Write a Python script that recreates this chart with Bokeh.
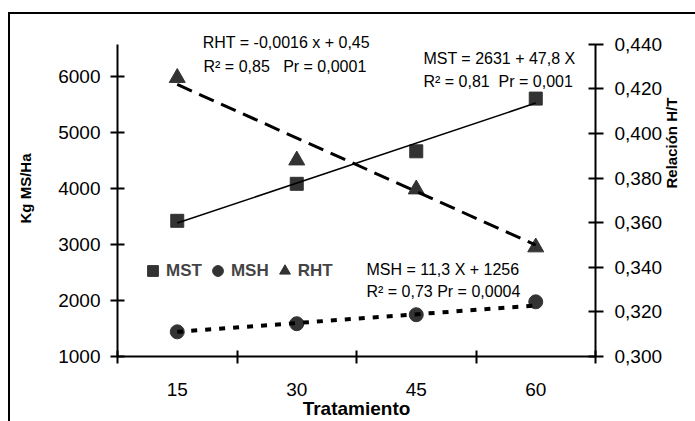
import math
from bokeh.plotting import figure
from bokeh.models import (LinearAxis, Range1d, FixedTicker, CustomJSTickFormatter,
                          Legend, LegendItem, Label)
from bokeh.embed import file_html
from bokeh.resources import INLINE

# ---- data ----
trat = [15, 30, 45, 60]
mst = [3420, 4080, 4660, 5600]
msh = [1440, 1585, 1745, 1975]
rht = [0.425, 0.388, 0.375, 0.349]

fit_x = [15, 60]
mst_fit = [3380, 5520]
msh_fit = [1440, 1910]
rht_fit = [0.422, 0.350]

cat_bounds = [7.5, 22.5, 37.5, 52.5, 67.5]
left_ticks = [1000, 2000, 3000, 4000, 5000, 6000]
right_ticks = [0.30, 0.32, 0.34, 0.36, 0.38, 0.40, 0.42, 0.44]

FONT = "Liberation Sans"
MARK = "#333333"

p = figure(width=695, height=421, title=None, output_backend="svg", toolbar_location=None,
           x_range=Range1d(7.5, 67.5), y_range=Range1d(1000, 6993),
           min_border_left=117, min_border_right=100, min_border_top=20, min_border_bottom=63)
p.xgrid.visible = False
p.ygrid.visible = False
p.outline_line_color = None
p.background_fill_color = "white"
p.border_fill_color = None
p.styles = {
    "background-color": "white",
    "background-image": "linear-gradient(#000, #000), linear-gradient(#000, #000)",
    "background-size": "2px 100%, 100% 2px",
    "background-position": "8px 12px, 8px 12px",
    "background-repeat": "no-repeat",
}

p.extra_y_ranges = {"rht": Range1d(0.30, 0.4507)}

# left axis
ya = p.yaxis[0]
ya.ticker = FixedTicker(ticks=left_ticks)
ya.bounds = (1000, 6567)
ya.major_tick_in = 7
ya.major_tick_out = 7
ya.major_label_standoff = 10
ya.axis_label = "Kg MS/Ha"
ya.axis_label_standoff = 21
ya.axis_label_text_font_size = "15px"

# right axis
ra = LinearAxis(y_range_name="rht", ticker=FixedTicker(ticks=right_ticks),
                formatter=CustomJSTickFormatter(code="return tick.toFixed(3).replace('.', ',')"))
ra.bounds = (0.30, 0.44)
ra.major_tick_in = 7
ra.major_tick_out = 8
ra.major_label_standoff = 11
ra.axis_label = "Relación H/T"
ra.axis_label_orientation = math.pi / 2
ra.axis_label_standoff = 6
ra.axis_label_text_font_size = "15px"
p.add_layout(ra, "right")

# x axis
xa = p.xaxis[0]
xa.ticker = FixedTicker(ticks=trat, minor_ticks=cat_bounds)
xa.major_tick_in = 0
xa.major_tick_out = 0
xa.minor_tick_in = 6
xa.minor_tick_out = 7
xa.minor_tick_line_color = "black"
xa.minor_tick_line_width = 2
xa.major_label_standoff = 19
xa.axis_label = "Tratamiento"
xa.axis_label_standoff = -1
xa.axis_label_text_font_size = "19px"

for ax in (ya, ra, xa):
    ax.axis_line_color = "black"
    ax.axis_line_width = 2
    ax.major_tick_line_color = "black"
    ax.major_tick_line_width = 2
    ax.major_label_text_font = FONT
    ax.major_label_text_font_size = "19px"
    ax.major_label_text_color = "black"
    ax.axis_label_text_font = FONT
    ax.axis_label_text_font_style = "bold"
    ax.axis_label_text_color = "black"
ya.minor_tick_line_color = None
ra.minor_tick_line_color = None

# markers
r_mst = p.scatter(trat, mst, marker="square", size=13, color=MARK)
r_msh = p.scatter(trat, msh, marker="circle", size=14, color=MARK)
r_rht = p.scatter(trat, rht, marker="triangle", size=16, color=MARK, y_range_name="rht")

# fitted lines
p.line(fit_x, mst_fit, line_color="black", line_width=1.5)
p.line(fit_x, rht_fit, line_color="black", line_width=3, line_dash="16 8", y_range_name="rht")
p.line(fit_x, msh_fit, line_color="black", line_width=4, line_dash="6 8")

# legend
legend = Legend(items=[LegendItem(label="MST", renderers=[r_mst]),
                       LegendItem(label="MSH", renderers=[r_msh]),
                       LegendItem(label="RHT", renderers=[r_rht])],
                orientation="horizontal", location=(22, 72),
                glyph_width=27, glyph_height=27, label_standoff=0, spacing=2,
                padding=0, margin=0, border_line_color=None, background_fill_alpha=0,
                label_text_font=FONT, label_text_font_style="bold", label_text_font_size="17px")
p.add_layout(legend)

# equations
eq_style = dict(text_font=FONT, text_font_size="16px", text_color="black",
                text_align="left", text_baseline="middle")
NB = "\u00a0"
for txt, x, y in [("RHT = -0,0016 x + 0,45", 18.2, 6603),
                  ("R² = 0,85" + NB * 3 + "Pr = 0,0001", 18.3, 6177),
                  ("MST = 2631 + 47,8 X", 45.9, 6319),
                  ("R² = 0,81" + NB * 2 + "Pr = 0,001", 45.9, 5911),
                  ("MSH = 11,3 X + 1256", 38.75, 2560),
                  ("R² = 0,73 Pr = 0,0004", 38.75, 2152)]:
    p.add_layout(Label(x=x, y=y, text=txt, **eq_style))

open("out.html", "w").write(file_html(p, INLINE))
